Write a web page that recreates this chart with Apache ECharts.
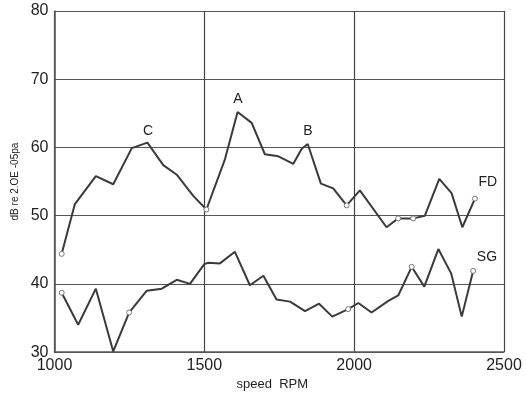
<!DOCTYPE html>
<html><head><meta charset="utf-8">
<script src="https://cdn.jsdelivr.net/npm/echarts@6/dist/echarts.min.js"></script>
<style>html,body{margin:0;padding:0;background:#fff}#c{width:526px;height:396px}</style>
</head><body><div id="c"></div>
<script>
const fdRpm = [1024,1068,1138,1196,1258,1310,1363,1408,1463,1507,1569,1611,1658,1702,1747,1797,1825,1845,1889,1930,1975,2019,2108,2147,2197,2236,2284,2325,2361,2403];
const fdDb  = [44.4,51.7,55.8,54.6,59.9,60.7,57.4,56.0,52.9,50.9,58.3,65.2,63.6,59.0,58.7,57.6,59.8,60.5,54.7,54.0,51.5,53.7,48.3,49.6,49.6,50.0,55.4,53.3,48.3,52.5];
const sgRpm = [1024,1079,1138,1196,1249,1308,1358,1408,1452,1500,1513,1552,1602,1652,1697,1741,1786,1836,1883,1927,1980,2014,2058,2114,2147,2192,2234,2281,2324,2359,2397];
const sgDb  = [38.7,34.0,39.3,30.1,35.8,39.0,39.3,40.6,40.0,42.9,43.1,43.0,44.7,39.8,41.2,37.7,37.4,36.0,37.1,35.2,36.3,37.2,35.8,37.5,38.3,42.5,39.6,45.1,41.5,35.2,41.9];
const xTicks = [1000,1500,2000,2500];
const yTicks = [30,40,50,60,70,80];
const notes = [["A",1612,67.1],["B",1846,62.4],["C",1312,62.4],["FD",2446,54.9],["SG",2443,43.9]];
// style: which points carry a small hollow marker
const fdMarked = [0,9,20,23,24,29];
const sgMarked = [0,4,20,25,30];

function build(r, v, marked){
  return r.map((x,i)=>{
    const o = {value:[x, v[i]]};
    if (marked.includes(i)) { o.symbol='circle'; o.symbolSize=5; o.itemStyle={color:'#fff',borderColor:'#777',borderWidth:1}; }
    return o;
  });
}
const chart = echarts.init(document.getElementById('c'));
const txt = '#222';
chart.setOption({
  animation:false,
  backgroundColor:'#fff',
  grid:{left:54.5, right:22, top:11, bottom:36},
  xAxis:{type:'value', min:xTicks[0], max:xTicks[xTicks.length-1], interval:500,
    name:'speed  RPM', nameLocation:'middle', nameGap:22,
    nameTextStyle:{color:txt, fontSize:13, fontFamily:'Liberation Sans', padding:[0,0,0,-14]},
    axisLine:{show:true, lineStyle:{color:'#555', width:1.5}},
    axisTick:{show:false},
    axisLabel:{color:txt, fontSize:16, fontFamily:'Liberation Sans', margin:5, formatter:v=>String(v)},
    splitLine:{show:true, lineStyle:{color:'#444', width:1.2}}},
  yAxis:{type:'value', min:yTicks[0], max:yTicks[yTicks.length-1], interval:10,
    name:'dB re 2.OE -05pa', nameLocation:'middle', nameGap:34,
    nameTextStyle:{color:txt, fontSize:10, fontFamily:'Liberation Sans'},
    axisLine:{show:true, lineStyle:{color:'#555', width:1.5}},
    axisTick:{show:false},
    axisLabel:{color:txt, fontSize:16, fontFamily:'Liberation Sans', margin:6, formatter:v=>String(v)},
    splitLine:{show:true, lineStyle:{color:'#555', width:1.2}}},
  series:[
    {type:'line', data:build(fdRpm, fdDb, fdMarked), symbol:'none', lineStyle:{color:'#3a3a3a', width:2}, z:5,
     markPoint:{symbol:'circle', symbolSize:1, itemStyle:{color:'rgba(0,0,0,0)'},
       label:{show:true, position:'inside', color:txt, fontSize:14, fontFamily:'Liberation Sans', formatter:p=>p.name},
       data:notes.map(n=>({name:n[0], coord:[n[1], n[2]]}))}},
    {type:'line', data:build(sgRpm, sgDb, sgMarked), symbol:'none', lineStyle:{color:'#3a3a3a', width:2}, z:5}
  ]
});
</script></body></html>
